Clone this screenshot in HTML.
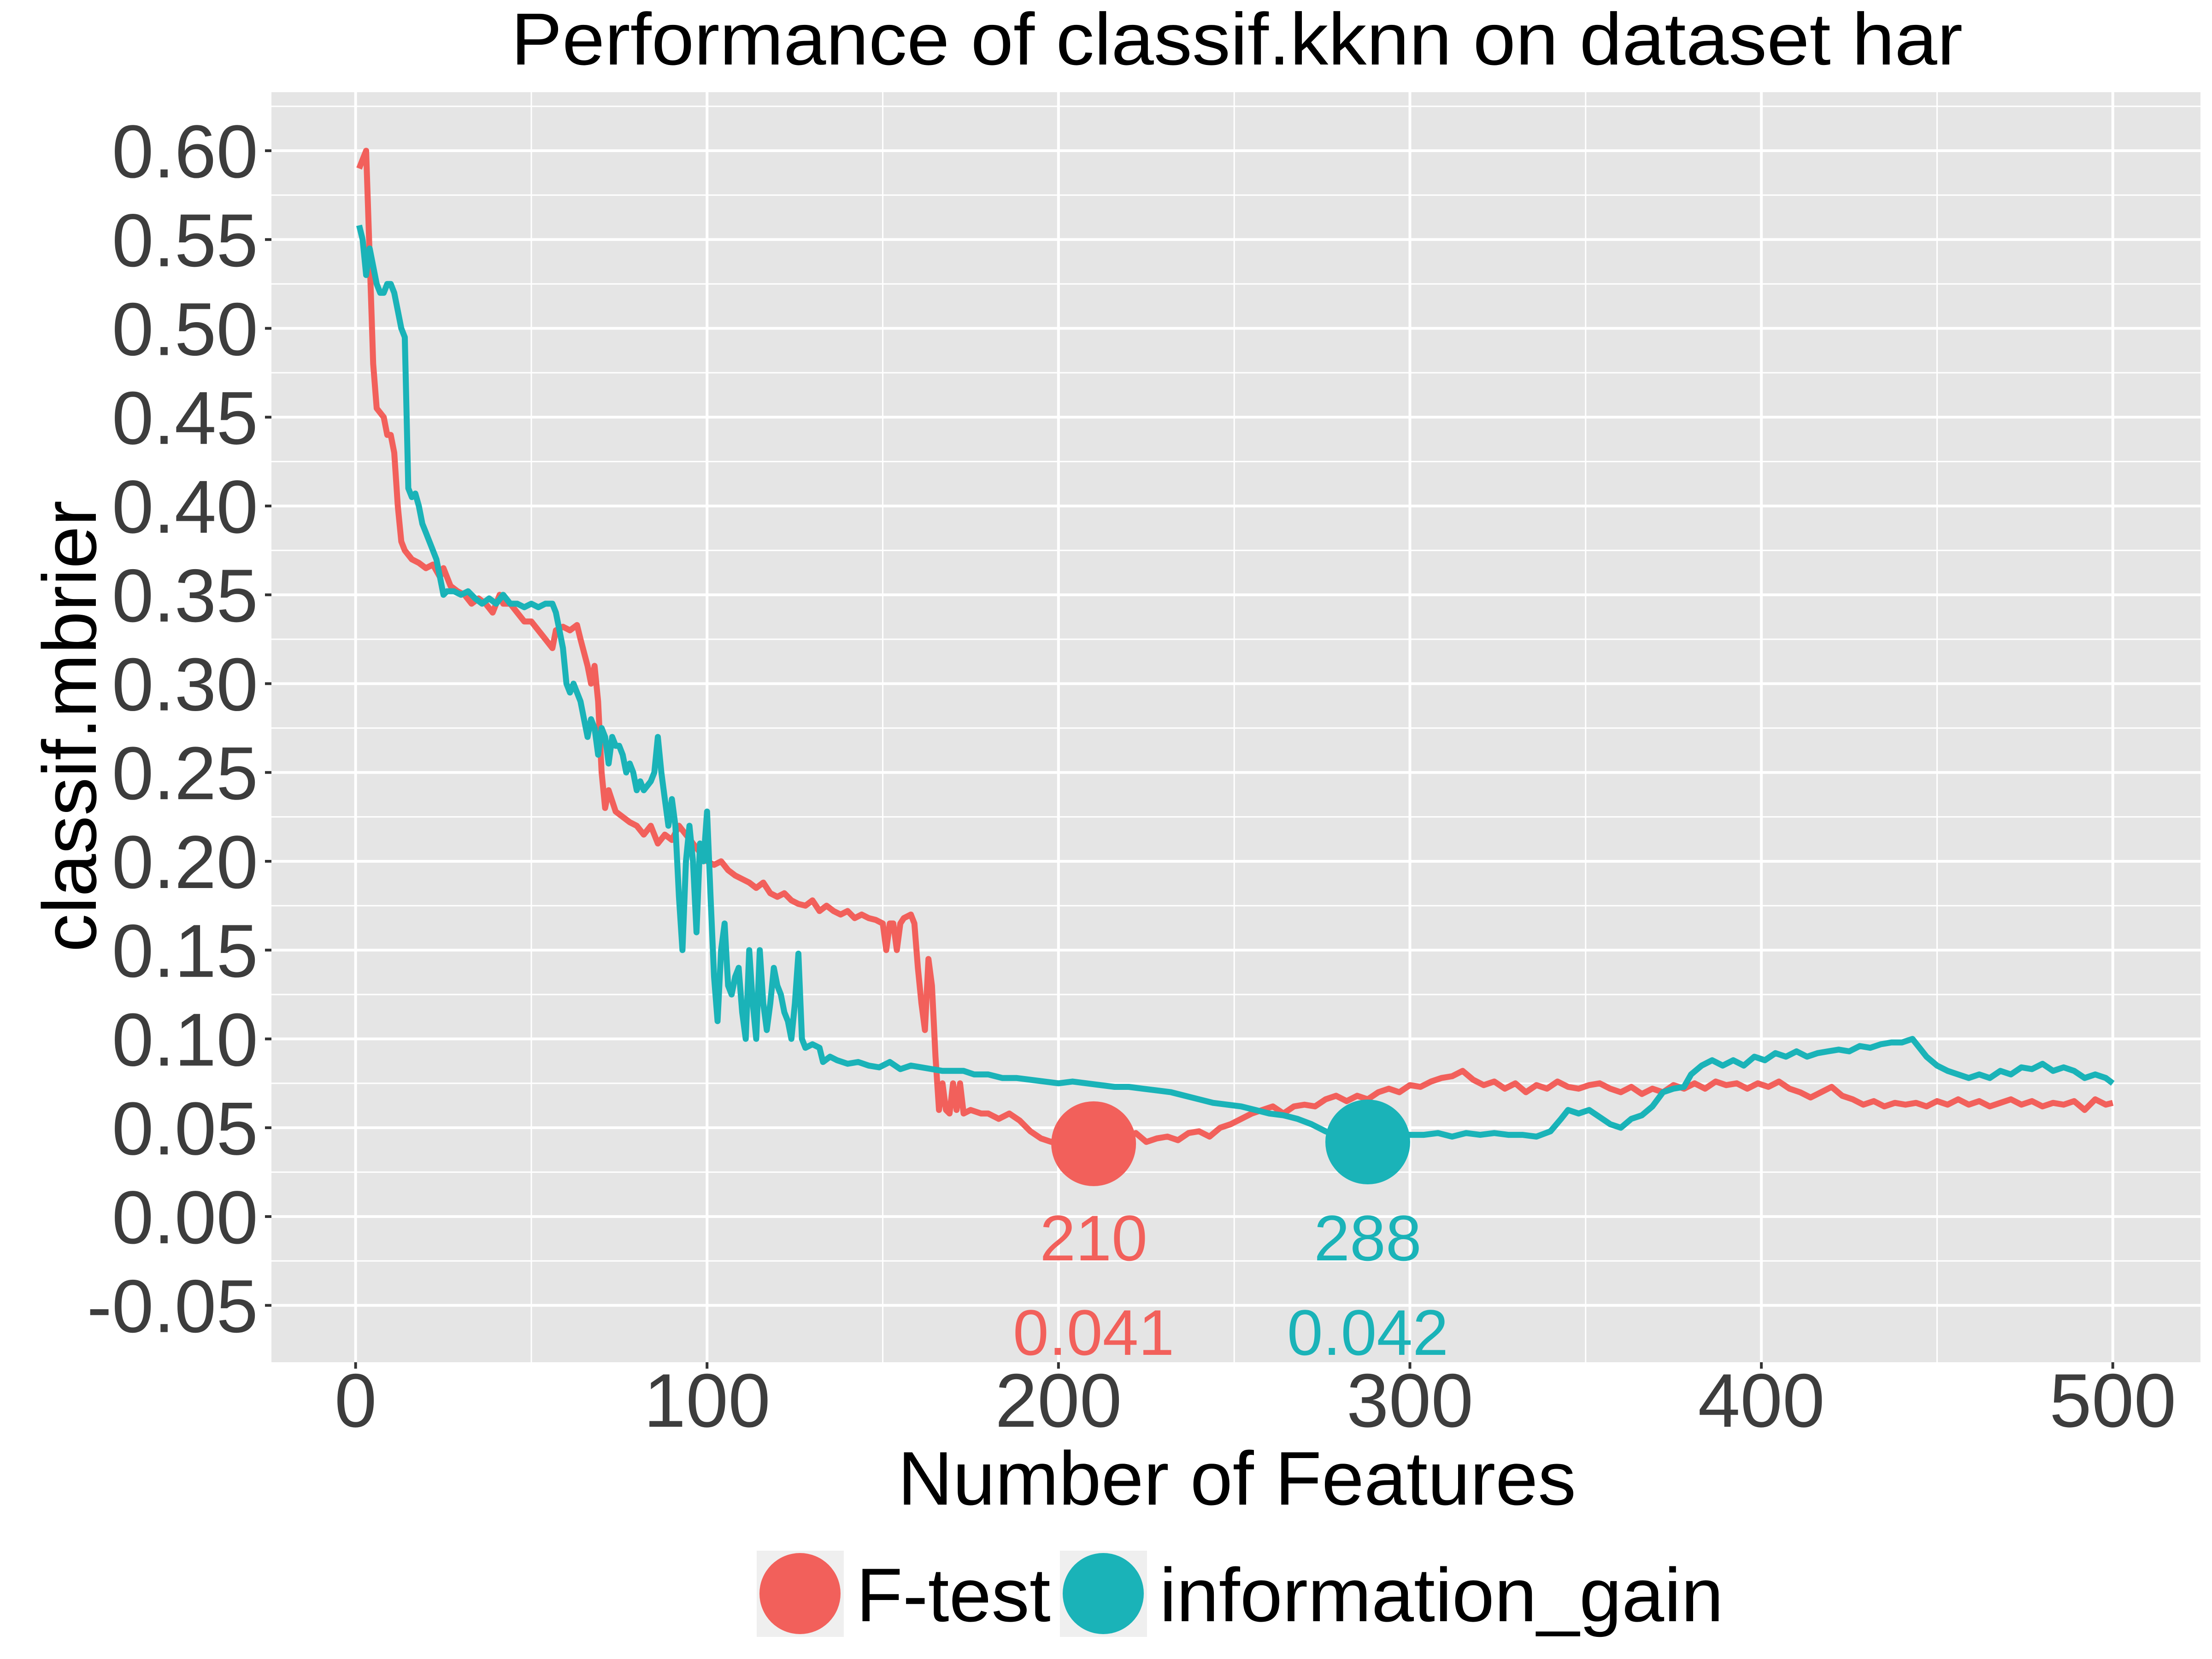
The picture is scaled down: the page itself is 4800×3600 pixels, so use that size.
<!DOCTYPE html>
<html><head><meta charset="utf-8"><style>
html,body{margin:0;padding:0;background:#fff;}
svg{display:block;font-family:"Liberation Sans",sans-serif;}
</style></head><body>
<svg id="chart" width="4800" height="3600" viewBox="0 0 4800 3600" xmlns="http://www.w3.org/2000/svg">
<rect x="0" y="0" width="4800" height="3600" fill="#fff"/>
<text x="2684" y="140" font-size="160" text-anchor="middle" fill="#000" textLength="3150" lengthAdjust="spacingAndGlyphs">Performance of classif.kknn on dataset har</text>
<rect x="589" y="200" width="4186" height="2756" fill="#e5e5e5"/>
<g id="grid"></g>
<g id="yticks"></g>
<g id="xticks"></g>
<g id="lines"></g>
<g id="best"></g>
<text x="2684" y="3265" font-size="165" text-anchor="middle" fill="#000" textLength="1472" lengthAdjust="spacingAndGlyphs">Number of Features</text>
<text transform="translate(208,1576) rotate(-90)" font-size="165" text-anchor="middle" fill="#000" textLength="980" lengthAdjust="spacingAndGlyphs">classif.mbrier</text>
<g>
<g>
<rect x="1642" y="3365" width="189" height="187" fill="#efefef"/>
<circle cx="1736" cy="3458" r="88" fill="#F2605B"/>
<text x="1858" y="3518" font-size="165" fill="#000">F-test</text>
</g>
<g>
<rect x="2300" y="3365" width="189" height="187" fill="#efefef"/>
<circle cx="2394" cy="3458" r="88" fill="#1AB3B8"/>
<text x="2516" y="3518" font-size="165" fill="#000" textLength="1224" lengthAdjust="spacingAndGlyphs">information_gain</text>
</g>
</g>
</svg>
<script>
const xTicks = [0,100,200,300,400,500];
const yTicks = [-0.05,0,0.05,0.10,0.15,0.20,0.25,0.30,0.35,0.40,0.45,0.50,0.55,0.60];
const yTickLabels = ["-0.05","0.00","0.05","0.10","0.15","0.20","0.25","0.30","0.35","0.40","0.45","0.50","0.55","0.60"];
const fX = [1,2,3,4,5,6,8,9,10,11,12,13,14,16,18,20,22,24,25,27,29,31,33,35,37,39,41,42,44,46,48,50,52,54,56,57,59,61,63,64,66,67,68,69,70,71,72,74,76,78,80,82,84,86,88,90,92,94,96,98,100,102,104,106,108,110,112,114,116,118,120,122,124,126,128,130,132,134,136,138,140,142,144,146,148,150,151,152,153,154,155,156,158,159,160,161,162,163,164,165,166,167,168,169,170,171,172,173,175,178,180,183,186,189,192,195,198,201,204,207,210,213,216,219,222,225,228,231,234,237,240,243,246,249,252,255,258,261,264,267,270,273,276,279,282,285,288,291,294,297,300,303,306,309,312,315,318,321,324,327,330,333,336,339,342,345,348,351,354,357,360,363,366,369,372,375,378,381,384,387,390,393,396,399,402,405,408,411,414,417,420,423,426,429,432,435,438,441,444,447,450,453,456,459,462,465,468,471,474,477,480,483,486,489,492,495,498,500];
const fY = [0.59,0.595,0.60,0.54,0.48,0.455,0.45,0.44,0.44,0.43,0.40,0.38,0.375,0.37,0.368,0.365,0.367,0.36,0.365,0.355,0.352,0.35,0.345,0.348,0.345,0.34,0.35,0.345,0.345,0.34,0.335,0.335,0.33,0.325,0.32,0.33,0.332,0.33,0.333,0.325,0.31,0.30,0.31,0.29,0.25,0.23,0.24,0.228,0.225,0.222,0.22,0.215,0.22,0.21,0.215,0.212,0.22,0.215,0.21,0.205,0.20,0.198,0.20,0.195,0.192,0.19,0.188,0.185,0.188,0.182,0.18,0.182,0.178,0.176,0.175,0.178,0.172,0.175,0.172,0.17,0.172,0.168,0.17,0.168,0.167,0.165,0.15,0.165,0.165,0.15,0.165,0.168,0.17,0.165,0.14,0.12,0.105,0.145,0.13,0.09,0.06,0.075,0.06,0.058,0.075,0.06,0.075,0.058,0.06,0.058,0.058,0.055,0.058,0.054,0.048,0.044,0.042,0.045,0.042,0.046,0.05,0.045,0.048,0.044,0.047,0.042,0.044,0.045,0.043,0.047,0.048,0.045,0.05,0.052,0.055,0.058,0.06,0.062,0.058,0.062,0.063,0.062,0.066,0.068,0.065,0.068,0.066,0.07,0.072,0.07,0.074,0.073,0.076,0.078,0.079,0.082,0.077,0.074,0.076,0.072,0.075,0.07,0.074,0.072,0.076,0.073,0.072,0.074,0.075,0.072,0.07,0.073,0.069,0.072,0.07,0.074,0.072,0.075,0.072,0.076,0.074,0.075,0.072,0.075,0.073,0.076,0.072,0.07,0.067,0.07,0.073,0.068,0.066,0.063,0.065,0.062,0.064,0.063,0.064,0.062,0.065,0.063,0.066,0.063,0.065,0.062,0.064,0.066,0.063,0.065,0.062,0.064,0.063,0.065,0.06,0.066,0.063,0.064];
const gX = [1,2,3,4,5,6,7,8,9,10,11,12,13,14,15,16,17,18,19,20,21,22,23,24,25,26,28,30,32,34,36,38,40,42,44,46,48,50,52,54,56,57,58,59,60,61,62,63,64,65,66,67,68,69,70,71,72,73,74,75,76,77,78,79,80,81,82,84,85,86,87,88,89,90,91,92,93,94,95,96,97,98,99,100,101,102,103,104,105,106,107,108,109,110,111,112,113,114,115,116,117,118,119,120,121,122,123,124,125,126,127,128,130,132,133,135,137,140,143,146,149,152,155,158,161,164,167,170,173,176,180,184,188,192,196,200,204,208,212,216,220,224,228,232,236,240,244,248,252,256,260,264,268,272,276,280,284,288,292,296,300,304,308,312,316,320,324,328,332,336,340,343,345,348,351,354,357,360,363,366,369,372,375,378,380,383,386,389,392,395,398,401,404,407,410,413,416,419,422,425,428,431,434,437,440,443,445,447,450,453,456,459,462,465,468,471,474,477,480,483,486,489,492,495,498,500];
const gY = [0.558,0.55,0.53,0.545,0.535,0.525,0.52,0.52,0.525,0.525,0.52,0.51,0.50,0.495,0.41,0.405,0.407,0.40,0.39,0.385,0.38,0.375,0.37,0.36,0.35,0.352,0.352,0.35,0.352,0.348,0.345,0.348,0.345,0.35,0.345,0.345,0.343,0.345,0.343,0.345,0.345,0.34,0.33,0.32,0.30,0.295,0.30,0.295,0.29,0.28,0.27,0.28,0.275,0.26,0.275,0.27,0.255,0.27,0.265,0.265,0.26,0.25,0.255,0.25,0.24,0.245,0.24,0.245,0.25,0.27,0.25,0.235,0.22,0.235,0.22,0.18,0.15,0.20,0.22,0.20,0.16,0.21,0.20,0.228,0.18,0.135,0.11,0.15,0.165,0.13,0.125,0.135,0.14,0.115,0.10,0.15,0.12,0.10,0.15,0.12,0.105,0.12,0.14,0.13,0.125,0.115,0.11,0.10,0.12,0.148,0.10,0.095,0.097,0.095,0.087,0.09,0.088,0.086,0.087,0.085,0.084,0.087,0.083,0.085,0.084,0.083,0.082,0.082,0.082,0.08,0.08,0.078,0.078,0.077,0.076,0.075,0.076,0.075,0.074,0.073,0.073,0.072,0.071,0.07,0.068,0.066,0.064,0.063,0.062,0.06,0.058,0.057,0.055,0.052,0.048,0.045,0.043,0.044,0.045,0.047,0.046,0.046,0.047,0.045,0.047,0.046,0.047,0.046,0.046,0.045,0.048,0.055,0.06,0.058,0.06,0.056,0.052,0.05,0.055,0.057,0.062,0.07,0.072,0.073,0.08,0.085,0.088,0.085,0.088,0.085,0.09,0.088,0.092,0.09,0.093,0.09,0.092,0.093,0.094,0.093,0.096,0.095,0.097,0.098,0.098,0.1,0.095,0.09,0.085,0.082,0.08,0.078,0.08,0.078,0.082,0.08,0.084,0.083,0.086,0.082,0.084,0.082,0.078,0.08,0.078,0.075];
const bestX = [210, 288];
const bestY = [0.041, 0.042];
const bestLabels = ["210", "288"];
const bestValueLabels = ["0.041", "0.042"];

const NS = "http://www.w3.org/2000/svg";
const px0 = 589, px1 = 4775, py0 = 200, py1 = 2956;
const xMin = -23.95, xMax = 524.95;
const yTop = 0.60 + 127/3853, yBot = -0.082;
function sx(v){ return px0 + (v - xMin) / (xMax - xMin) * (px1 - px0); }
function sy(v){ return py0 + (yTop - v) / (yTop - yBot) * (py1 - py0); }
function mk(tag, attrs, parent){ const e = document.createElementNS(NS, tag); for (const k in attrs) e.setAttribute(k, attrs[k]); parent.appendChild(e); return e; }

const grid = document.getElementById('grid');
for (let i = 0; i < yTicks.length; i++) {
  const v = yTicks[i] + 0.025;
  if (sy(v) > py0) {
    const m = mk('line', {x1: px0, x2: px1, y1: sy(v), y2: sy(v), stroke: '#fff', 'stroke-width': 3}, grid);
    
    
  }
}
for (let i = 0; i < xTicks.length; i++) {
  const v = xTicks[i] + 50;
  if (sx(v) < px1) {
    const m = mk('line', {x1: sx(v), x2: sx(v), y1: py0, y2: py1, stroke: '#fff', 'stroke-width': 3}, grid);
    
    
  }
}
const yt = document.getElementById('yticks');
for (let i = 0; i < yTicks.length; i++) {
  const y = sy(yTicks[i]);
  const g = mk('line', {x1: px0, x2: px1, y1: y, y2: y, stroke: '#fff', 'stroke-width': 6}, grid);
  
  
  const t = mk('line', {x1: 575, x2: px0, y1: y, y2: y, stroke: '#333', 'stroke-width': 6}, yt);
  
  
  const l = mk('text', {x: 560, y: y + 58, 'font-size': 163, 'text-anchor': 'end', fill: '#3d3d3d'}, yt);
  
  
  l.textContent = yTickLabels[i];
}
const xt = document.getElementById('xticks');
for (let i = 0; i < xTicks.length; i++) {
  const x = sx(xTicks[i]);
  const g = mk('line', {x1: x, x2: x, y1: py0, y2: py1, stroke: '#fff', 'stroke-width': 6}, grid);
  
  
  const t = mk('line', {x1: x, x2: x, y1: py1, y2: py1 + 14, stroke: '#333', 'stroke-width': 6}, xt);
  
  
  const l = mk('text', {x: x, y: 3096, 'font-size': 165, 'text-anchor': 'middle', fill: '#3d3d3d'}, xt);
  
  
  l.textContent = String(xTicks[i]);
}
const lines = document.getElementById('lines');
function drawLine(xs, ys, color, name){
  let d = '';
  for (let i = 0; i < xs.length; i++) d += (i ? 'L' : 'M') + sx(xs[i]).toFixed(1) + ',' + sy(ys[i]).toFixed(1);
  const p = mk('path', {d: d, fill: 'none', stroke: color, 'stroke-width': 13, 'stroke-linejoin': 'round'}, lines);
  
  
}
drawLine(fX, fY, '#F2605B', 'f-test-line');
drawLine(gX, gY, '#1AB3B8', 'information-gain-line');
const best = document.getElementById('best');
const bcol = ['#F2605B', '#1AB3B8'];
for (let i = 0; i < bestX.length; i++) {
  const c = mk('circle', {cx: sx(bestX[i]), cy: sy(bestY[i]), r: 92, fill: bcol[i]}, best);
  
  
  const a = mk('text', {x: sx(bestX[i]), y: 2735, 'font-size': 140, 'text-anchor': 'middle', fill: bcol[i]}, best);
  
  
  a.textContent = bestLabels[i];
  const b = mk('text', {x: sx(bestX[i]), y: 2940, 'font-size': 140, 'text-anchor': 'middle', fill: bcol[i]}, best);
  
  
  b.textContent = bestValueLabels[i];
}
</script>
</body></html>
